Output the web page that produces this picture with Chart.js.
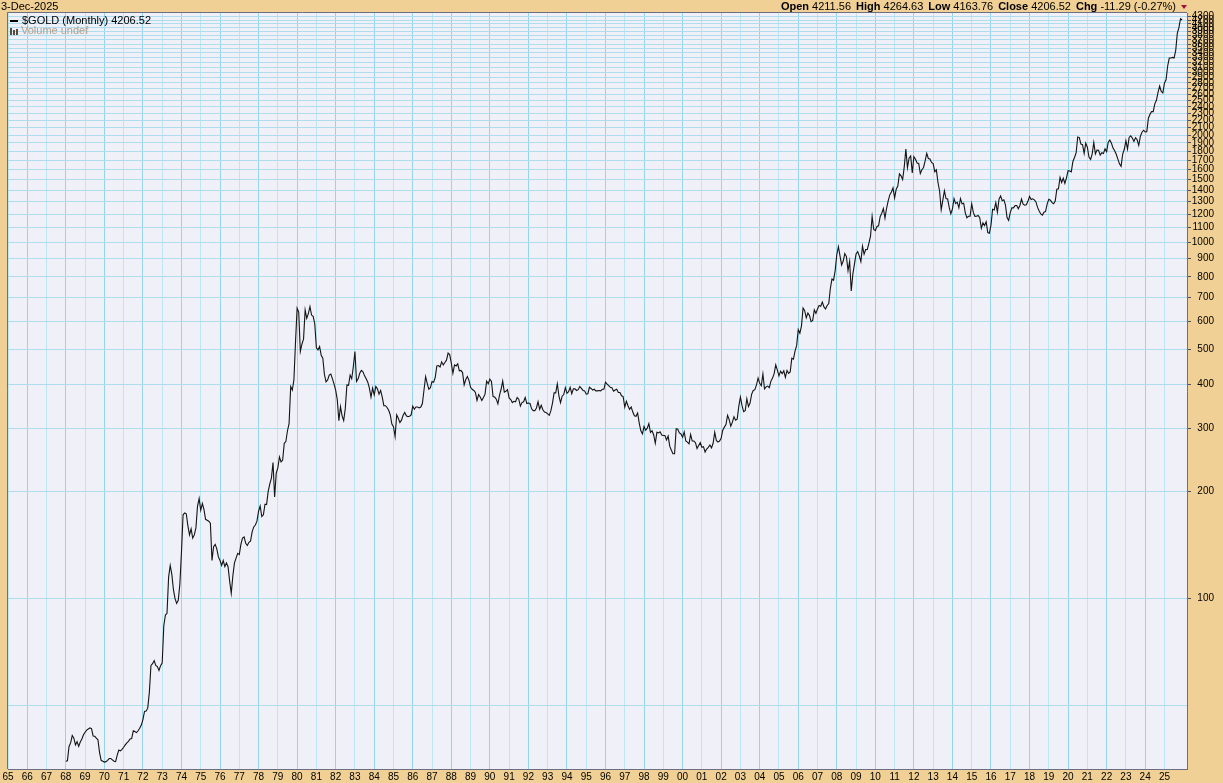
<!DOCTYPE html>
<html><head><meta charset="utf-8">
<script src="https://cdn.jsdelivr.net/npm/chart.js@4"></script>
<style>
html,body{margin:0;padding:0;background:#F0D094;}
#wrap{position:relative;width:1223px;height:783px;overflow:hidden;background:#F0D094;font-family:"Liberation Sans",Arial,sans-serif;}
canvas{position:absolute;left:0;top:0;}
.t{position:absolute;font-size:11px;line-height:13px;color:#000;white-space:nowrap;}
.t b{font-weight:bold;}
.g{margin-left:5px;}
</style></head><body>
<div id="wrap">
<canvas id="c" width="1223" height="783"></canvas>
<div class="t" style="left:1px;top:0px">3-Dec-2025</div>
<div class="t" style="right:47px;top:0px"><b>Open</b> 4211.56<b class="g">High</b> 4264.63<b class="g">Low</b> 4163.76<b class="g">Close</b> 4206.52<b class="g">Chg</b> -11.29 (-0.27%)</div>
<div style="position:absolute;left:1181px;top:5px;width:0;height:0;border-left:3px solid transparent;border-right:3px solid transparent;border-top:4px solid #A0103A;"></div>
<div style="position:absolute;left:10px;top:20px;width:8px;height:2px;background:#000;"></div>
<div class="t" style="left:22px;top:14px">$GOLD (Monthly) 4206.52</div>
<div style="position:absolute;left:10px;top:28px;width:2px;height:7px;background:#5A4A3A;"></div>
<div style="position:absolute;left:13px;top:30px;width:2px;height:5px;background:#5A4A3A;"></div>
<div style="position:absolute;left:16px;top:29px;width:2px;height:6px;background:#5A4A3A;"></div>
<div class="t" style="left:21px;top:24px;color:#B4A08A">Volume undef</div>
</div>
<script>
// Monthly closes of $GOLD, Jan 1968 .. Dec 2025
const gold1968to1979 = [
 35.0,35.1,38.5,39.4,41.3,40.6,38.9,39.7,38.5,39.6,40.4,41.5,
 42.2,42.8,43.1,43.4,43.2,41.2,41.1,40.6,40.2,37.0,35.2,35.0,
 34.8,34.9,35.2,35.6,35.6,35.3,35.0,34.9,36.4,37.6,37.4,37.8,
 38.3,38.9,39.4,39.8,40.4,40.5,42.6,42.4,42.1,42.6,43.3,44.2,
 45.8,48.3,48.4,49.3,54.6,65.0,65.7,67.0,65.0,64.5,62.9,64.9,
 66.0,84.0,90.0,91.0,115.0,124.0,117.0,106.0,100.0,97.0,99.0,110.0,
 135.0,172.0,174.0,173.0,160.0,151.0,157.0,148.0,151.0,158.0,182.0,191.0,
 177.0,185.0,178.0,167.0,166.0,165.0,163.0,128.0,140.0,142.0,138.0,131.0,
 128.0,124.0,128.0,123.0,126.0,123.0,112.0,103.5,116.0,126.0,130.0,134.0,
 133.0,142.0,148.0,149.0,143.0,141.0,144.0,145.0,154.0,159.0,161.0,165.0,
 176.0,182.0,170.0,172.0,184.0,184.0,200.0,210.0,218.0,241.0,193.0,225.0,
 233.0,250.0,242.0,245.0,273.0,276.0,296.0,310.0,394.0,385.0,411.0,524.0
];
const gold1980s = [
 653,637,494,518,535,646,612,631,660,625,620,590,
 506,499,510,482,473,426,406,411,424,427,414,400,
 385,362,316,346,326,316,342,398,397,424,414,448,
 494,407,414,429,437,433,422,414,405,390,368,390,
 373,394,388,375,384,368,348,348,344,338,328,309,
 304,285,328,321,312,317,327,333,326,324,325,328,
 347,340,345,345,343,345,353,385,420,402,387,391,
 407,405,418,450,451,447,462,453,460,467,489,484,
 458,429,453,450,456,436,437,431,398,412,420,410,
 392,387,384,379,360,374,368,360,367,375,408,401
];
const gold1990s = [
 413,407,369,368,363,352,372,387,408,380,382,386,
 366,362,355,358,357,367,363,347,355,357,367,353,
 354,353,341,337,337,343,357,340,349,339,334,333,
 330,327,337,354,378,378,401,371,355,370,374,391,
 377,381,392,376,388,388,384,386,394,389,384,383,
 375,376,392,389,385,387,383,383,384,383,387,387,
 405,400,396,392,391,382,385,387,379,379,371,369,
 345,358,348,340,345,334,326,325,332,311,296,290,
 304,297,301,310,293,296,288,273,293,292,294,288,
 287,287,279,286,268,261,255,255,300,299,292,290
];
const gold2000s = [
 284,294,277,275,272,289,277,277,274,264,269,274,
 266,267,258,263,266,270,265,273,293,278,275,277,
 282,297,303,308,327,318,305,313,324,317,319,347,
 368,348,335,337,364,346,354,375,384,386,398,416,
 402,396,427,388,393,395,391,408,416,428,453,438,
 422,435,428,436,418,437,429,433,473,470,495,513,
 569,556,582,654,643,614,633,623,599,604,646,632,
 650,665,662,680,659,650,665,673,743,789,783,834,
 923,972,916,864,886,930,912,833,884,730,814,869,
 928,942,916,883,975,926,954,955,995,1040,1182,1087
];
const gold2010s = [
 1078,1108,1113,1180,1207,1244,1169,1246,1307,1359,1384,1421,
 1332,1410,1439,1556,1536,1500,1628,1828,1620,1722,1746,1566,
 1740,1711,1669,1664,1559,1598,1622,1692,1776,1719,1714,1675,
 1663,1578,1597,1472,1393,1235,1312,1396,1327,1323,1253,1202,
 1240,1326,1284,1296,1250,1327,1282,1287,1210,1172,1183,1184,
 1283,1213,1183,1184,1190,1172,1095,1134,1115,1142,1065,1061,
 1118,1238,1233,1293,1215,1321,1350,1309,1316,1273,1174,1152,
 1211,1249,1249,1268,1268,1242,1269,1322,1280,1271,1275,1303,
 1345,1318,1325,1316,1298,1253,1224,1201,1192,1215,1221,1282,
 1321,1313,1292,1283,1305,1409,1413,1520,1472,1513,1464,1517
];
const gold2020s = [
 1589,1585,1577,1686,1730,1781,1975,1967,1886,1879,1776,1898,
 1848,1734,1708,1769,1906,1770,1814,1813,1757,1783,1774,1829,
 1797,1909,1937,1897,1838,1807,1766,1711,1660,1633,1768,1824,
 1928,1827,1969,1990,1962,1919,1965,1940,1871,1983,2036,2063,
 2040,2044,2230,2286,2327,2326,2447,2503,2635,2744,2650,2624,
 2798,2858,3124,3289,3289,3303,3290,3448,3858,4003,4239,4206.52
];
const firstYear = 1968;
const xTickYears = [];
for (let y = 1965; y <= 2025; y++) xTickYears.push(y);
const yTickValues = [50,100,200,300,400,500,600,700,800,900,1000,1100,1200,1300,1400,1500,1600,1700,1800,1900,2000,
  2100,2200,2300,2400,2500,2600,2700,2800,2900,3000,3100,3200,3300,3400,3500,3600,3700,3800,3900,4000,4100,4200,4300];

const closes = [].concat(gold1968to1979, gold1980s, gold1990s, gold2000s, gold2010s, gold2020s);
const points = closes.map((v, i) => ({ x: firstYear + i / 12, y: v }));

const plotFrame = {
  id: 'plotFrame',
  beforeDraw(chart) {
    const { ctx, chartArea: a } = chart;
    ctx.save();
    ctx.fillStyle = '#EFF0F8';
    ctx.fillRect(a.left, a.top, a.right - a.left, a.bottom - a.top);
    ctx.restore();
  },
  afterDraw(chart) {
    const { ctx, chartArea: a } = chart;
    ctx.save();
    ctx.strokeStyle = '#6E6E82';
    ctx.lineWidth = 1;
    ctx.beginPath();
    ctx.moveTo(Math.round(a.left) - 0.5, Math.round(a.bottom));
    ctx.lineTo(Math.round(a.left) - 0.5, Math.round(a.top) - 0.5);
    ctx.lineTo(Math.round(a.right), Math.round(a.top) - 0.5);
    ctx.stroke();
    ctx.restore();
  }
};

const tickFont = { family: '"Liberation Sans", Arial, sans-serif', size: 10 };

new Chart(document.getElementById('c').getContext('2d'), {
  type: 'line',
  data: { datasets: [{ data: points, borderColor: '#141414', borderWidth: 1.1, pointRadius: 0, tension: 0, fill: false }] },
  options: {
    responsive: false, animation: false, events: [],
    layout: { padding: { left: 8, top: 13, right: 9, bottom: 0 } },
    plugins: { legend: { display: false }, tooltip: { enabled: false } },
    scales: {
      x: {
        type: 'linear', min: 1965, max: 2026.17, bounds: 'data', position: 'bottom',
        afterBuildTicks: s => { s.ticks = xTickYears.map(v => ({ value: v })); },
        afterFit: s => { s.height = 14; },
        ticks: { autoSkip: false, maxRotation: 0, padding: 2, color: '#000', font: tickFont,
          callback: v => String(((v % 100) + 100) % 100).padStart(2, '0') },
        grid: { color: c => (c.tick && c.tick.value % 2 === 0) ? '#98D3EC' : '#BDE6F2', drawTicks: false, lineWidth: 1 },
        border: { display: true, color: '#6E6E82', width: 1 }
      },
      y: {
        type: 'logarithmic', position: 'right', min: 33.28, max: 4400, bounds: 'data',
        afterBuildTicks: s => { s.ticks = yTickValues.map(v => ({ value: v })); },
        afterFit: s => { s.width = 27; },
        ticks: { autoSkip: false, padding: 2, crossAlign: 'far', color: '#000', font: tickFont,
          callback: v => v >= 100 ? String(v) : '' },
        grid: { color: '#AEDDED', lineWidth: 1, drawTicks: true, tickLength: 4,
          tickColor: c => (c.tick && c.tick.value >= 100) ? '#50506A' : 'rgba(0,0,0,0)' },
        border: { display: true, color: '#6E6E82', width: 1 }
      }
    }
  },
  plugins: [plotFrame]
});
</script>
</body></html>
